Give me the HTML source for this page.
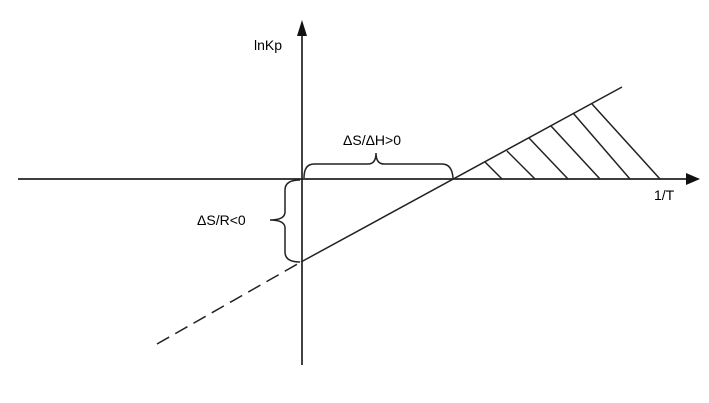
<!DOCTYPE html>
<html><head><style>
html,body{margin:0;padding:0;background:#fff;}
svg{display:block;}
text{font-family:"Liberation Sans",sans-serif;font-size:14px;fill:#000;}
</style></head><body>
<svg width="709" height="403" viewBox="0 0 709 403">
<g stroke="#222" fill="none" stroke-width="1.7">
<line x1="18" y1="179" x2="690" y2="179"/>
<line x1="302" y1="30" x2="302" y2="365"/>
<line x1="301" y1="262" x2="622" y2="87" stroke-width="1.5"/>
<line x1="157" y1="344" x2="301" y2="262" stroke-dasharray="14,7" stroke-width="1.5"/>
<g stroke-width="1.5">
<line x1="485" y1="162" x2="502" y2="179"/>
<line x1="507" y1="151" x2="535" y2="179"/>
<line x1="529" y1="138" x2="568" y2="179"/>
<line x1="551" y1="126" x2="600" y2="179"/>
<line x1="573" y1="113" x2="630" y2="179"/>
<line x1="592" y1="104" x2="660" y2="179"/>
</g>
<path d="M304 178 Q304 164 314 164 L368 164 Q376 164 376 153 Q376 164 384 164 L442 164 Q452 164 453 178" stroke-width="1.5"/>
<path d="M300 180 Q285 180 285 190 L285 212 Q285 220 270 220 Q285 220 285 228 L285 252 Q285 262 300 262" stroke-width="1.5"/>
</g>
<polygon points="302,20 297,36 307,36" fill="#111"/>
<polygon points="700,179 686,173 686,185" fill="#111"/>
<text x="254" y="50">lnKp</text>
<text x="654" y="200">1/T</text>
<text x="343" y="145">ΔS/ΔH&gt;0</text>
<text x="197" y="225">ΔS/R&lt;0</text>
</svg>
</body></html>
